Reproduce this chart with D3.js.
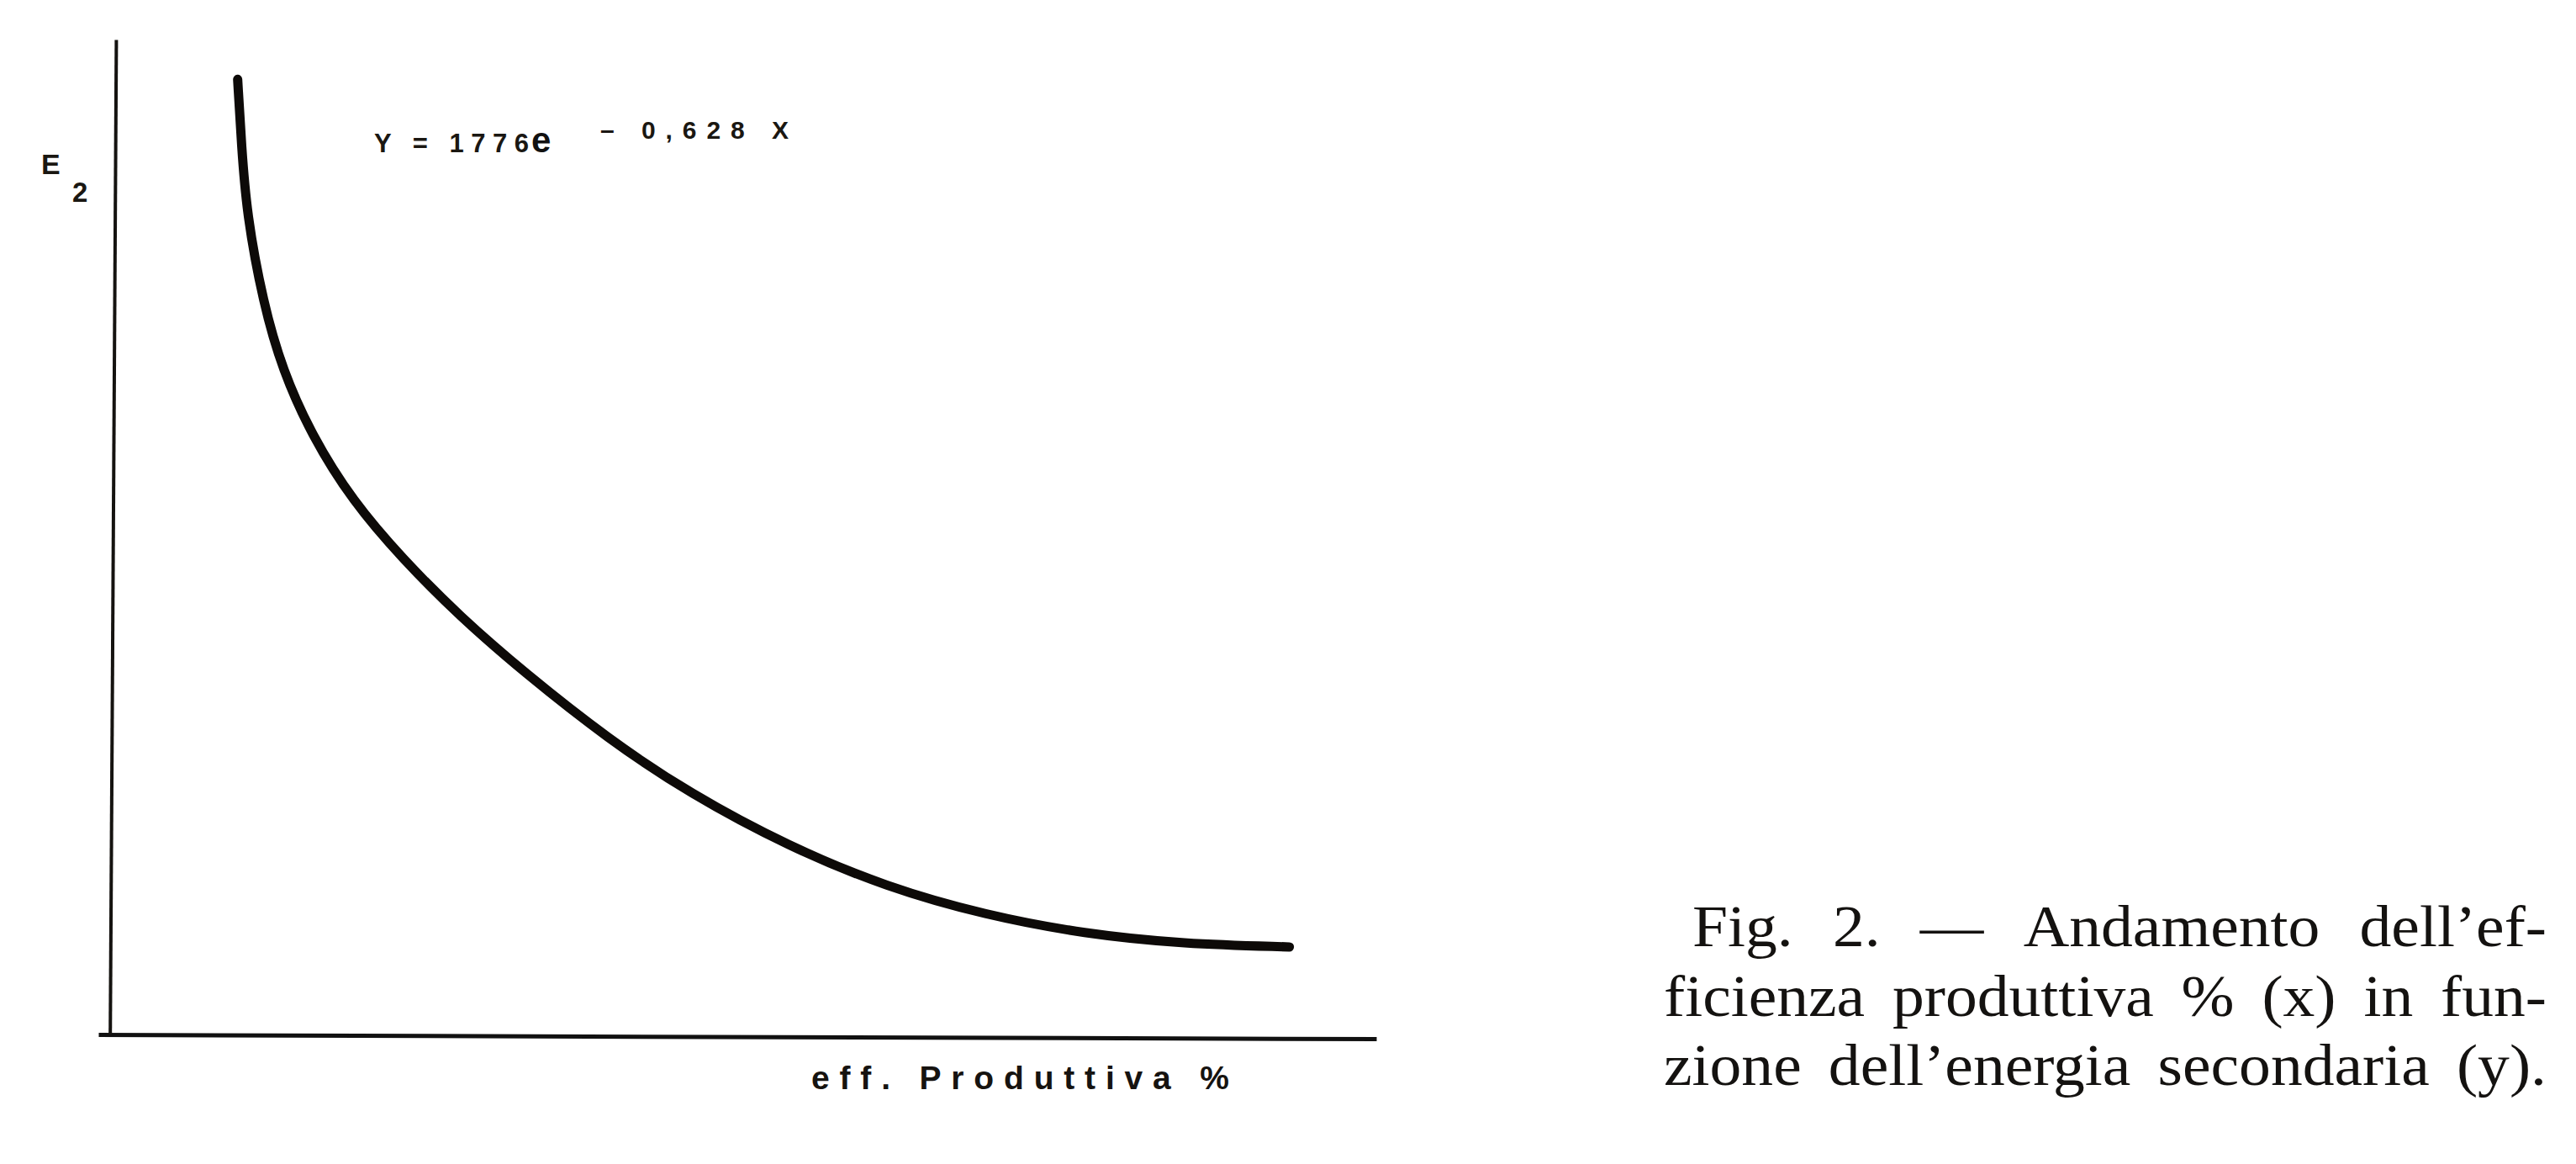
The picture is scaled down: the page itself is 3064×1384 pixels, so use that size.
<!DOCTYPE html>
<html>
<head>
<meta charset="utf-8">
<script src="https://cdn.jsdelivr.net/npm/d3@7"></script>
<style>
  body { margin: 0; background: #fff; }
  svg { display: block; }
</style>
</head>
<body>
<svg id="chart" width="3064" height="1384"></svg>
<script>
// curve (x: eff. produttiva %, y: E2, both on a 0-100 frame)
var curveX = [10.9, 11.2, 11.6, 12.9, 14.4, 16.7, 19.9, 23.8, 28.3, 33.4, 39.9, 46.3, 54.0, 61.7, 69.4, 77.2, 84.9, 93.2];
var curveY = [96.0, 89.4, 82.5, 73.5, 66.8, 60.2, 53.6, 47.8, 42.0, 36.3, 29.7, 24.2, 18.9, 14.8, 12.0, 10.1, 9.1, 8.8];

var yLabel = ["E", "2"];
var xLabel = "eff. Produttiva %";
var formula = ["Y = 1776", "e", "\u2013 0,628 X"];
var caption = [
  "Fig. 2. \u2014 Andamento dell\u2019ef-",
  "ficienza produttiva % (x) in fun-",
  "zione dell\u2019energia secondaria (y)."
];

var width = 3064, height = 1384;
var svg = d3.select("#chart");

var x = d3.scaleLinear().domain([0, 100]).range([117, 1637]);
var y = d3.scaleLinear().domain([0, 100]).range([1230, 47]);

var data = curveX.map(function(d, i) { return { x: d, y: curveY[i] }; });

// axes: plain lines, no ticks
var xAxis = d3.axisBottom(x).tickValues([]).tickSizeOuter(0);
var yAxis = d3.axisLeft(y).tickValues([]).tickSizeOuter(0);

svg.append("g")
  .attr("transform", "translate(0," + y(0) + ") rotate(0.19," + x(0) + ",0)")
  .call(xAxis)
  .select(".domain")
    .attr("stroke", "#111")
    .attr("stroke-width", 5);

svg.append("g")
  .attr("transform", "translate(" + x(0.9) + ",0) rotate(0.35,0," + y(0) + ")")
  .call(yAxis)
  .select(".domain")
    .attr("stroke", "#151310")
    .attr("stroke-width", 4);

var line = d3.line()
  .x(function(d) { return x(d.x); })
  .y(function(d) { return y(d.y); })
  .curve(d3.curveBasis);

svg.append("path")
  .datum(data)
  .attr("d", line)
  .attr("fill", "none")
  .attr("stroke", "#0d0a08")
  .attr("stroke-width", 11)
  .attr("stroke-linecap", "round");

// labels
var sans = "'Liberation Sans', Arial, sans-serif";
svg.append("text")
  .attr("x", 49).attr("y", 207)
  .attr("font-family", sans).attr("font-weight", "bold").attr("font-size", 34)
  .attr("fill", "#1a1712")
  .text(yLabel[0]);
svg.append("text")
  .attr("x", 86).attr("y", 240)
  .attr("font-family", sans).attr("font-weight", "bold").attr("font-size", 33)
  .attr("fill", "#1a1712")
  .text(yLabel[1]);

svg.append("text")
  .attr("x", 965).attr("y", 1295)
  .attr("font-family", sans).attr("font-weight", "bold").attr("font-size", 39)
  .attr("textLength", 497).attr("lengthAdjust", "spacing")
  .attr("fill", "#161310")
  .text(xLabel);

svg.append("text")
  .attr("x", 445).attr("y", 181)
  .attr("font-family", sans).attr("font-weight", "bold").attr("font-size", 31)
  .attr("textLength", 184).attr("lengthAdjust", "spacing")
  .attr("fill", "#1a1712")
  .text(formula[0]);
svg.append("text")
  .attr("x", 632).attr("y", 181)
  .attr("font-family", sans).attr("font-weight", "bold").attr("font-size", 42)
  .attr("fill", "#111")
  .text(formula[1]);
svg.append("text")
  .attr("x", 714).attr("y", 165)
  .attr("font-family", sans).attr("font-weight", "bold").attr("font-size", 30)
  .attr("textLength", 224).attr("lengthAdjust", "spacing")
  .attr("fill", "#1a1712")
  .text(formula[2]);

// caption, justified between left edge and right edge
var serif = "'Liberation Serif', 'Times New Roman', serif";
var capRight = 3029;
var capLeft = [2013, 1979, 1979];
var capBase = [1125, 1208, 1290];
var stretch = 1.08;

caption.forEach(function(str, li) {
  var words = str.split(" ");
  var t = svg.append("text")
    .attr("transform", "translate(" + capLeft[li] + "," + capBase[li] + ") scale(" + stretch + ",1)")
    .attr("font-family", serif).attr("font-size", 70)
    .attr("fill", "#141210");
  var spans = words.map(function(w) { return t.append("tspan").text(w); });
  var widths = spans.map(function(s) { return s.node().getComputedTextLength(); });
  var avail = (capRight - capLeft[li]) / stretch;
  var gap = (avail - d3.sum(widths)) / (words.length - 1);
  var cx = 0;
  spans.forEach(function(s, i) {
    s.attr("x", cx);
    cx += widths[i] + gap;
  });
});
</script>
</body>
</html>
